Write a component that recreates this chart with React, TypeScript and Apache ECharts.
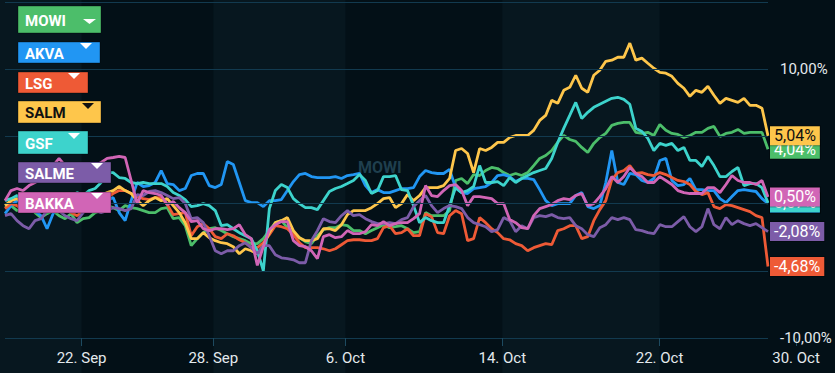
import React, { useEffect, useRef } from 'react';
import * as echarts from 'echarts';

// ---- data (percent change), one value per sample, left to right ----
const MOWI = [
  -0.30, -0.15, -0.52, -0.30, -0.15, -0.67, -1.04, -0.75, -0.52, -0.90,
  -1.12, -0.75, -1.42, -1.12, -1.04, -0.67, -0.52, -0.15, -0.30, -0.52,
  -0.15, -0.30, -0.37, -0.52, -0.67, -0.67, -0.37, -0.30, -1.12, -1.04,
  -1.64, -3.13, -2.61, -2.16, -1.87, -1.79, -2.01, -2.24, -2.46, -2.61,
  -2.76, -2.98, -2.98, -2.61, -2.01, -1.42, -1.27, -1.79, -2.16, -2.54,
  -2.83, -2.98, -2.39, -1.94, -1.79, -1.79, -1.57, -1.64, -2.01, -2.01,
  -2.24, -2.01, -1.79, -1.57, -1.79, -1.72, -1.64, -1.87, -2.16, -2.09,
  -0.67, -0.90, -0.90, -0.90, -0.52, 1.72, 1.87, 1.49, 2.16, 2.09,
  2.46, 2.69, 2.61, 2.31, 2.09, 2.24, 2.09, 2.31, 2.83, 3.36,
  3.58, 3.95, 4.55, 5.07, 4.77, 4.63, 4.18, 3.80, 4.48, 4.92,
  5.22, 5.82, 5.97, 6.04, 6.04, 5.30, 5.22, 5.30, 5.07, 5.89,
  5.45, 5.22, 5.15, 4.92, 5.07, 5.30, 5.30, 5.60, 5.74, 5.00,
  5.22, 5.30, 5.52, 5.22, 5.30, 5.30, 5.30, 4.04,
];
const AKVA = [
  -0.75, -0.15, 0.22, 0.0, -0.30, -0.52, -0.90, -1.87, -0.75, -0.15,
  0.0, 0.22, 0.22, 0.37, 0.22, 0.07, 0.37, 0.22, 0.45, -0.67,
  -1.27, 0.22, 1.57, 1.27, 1.34, 1.57, 2.46, 1.49, 1.42, 0.97,
  1.12, 2.09, 2.24, 2.24, 1.34, 1.19, 1.42, 3.13, 2.91, 1.57,
  0.22, 0.07, 0.07, -0.22, 0.22, 0.22, 0.30, 0.97, 1.64, 2.16,
  2.24, 2.01, 1.94, 1.94, 1.94, 2.01, 1.87, 2.09, 2.16, 2.24,
  1.34, 0.82, 1.04, 0.82, 0.82, 0.97, 1.12, 1.12, 1.19, 2.01,
  2.46, 2.31, 2.24, 2.24, 2.54, 1.19, 0.82, 0.75, 1.12, 1.19,
  1.27, 1.57, 2.09, 2.16, 2.01, 1.64, 1.87, 1.87, 1.79, 1.04,
  0.22, -0.15, 0.0, 0.0, 0.0, 0.60, 0.82, -0.22, -0.37, -0.15,
  1.57, 3.95, 1.57, 1.42, 2.24, 2.16, 1.72, 1.57, 1.87, 3.21,
  3.36, 1.72, 1.34, 1.42, 1.87, 1.04, 1.04, 0.97, 0.97, 0.37,
  0.07, 0.52, 0.97, 1.04, 0.97, 0.90, 0.37, 0.02,
];
const LSG = [
  -0.37, 0.0, -0.15, -0.52, -0.30, 0.07, -0.15, -0.52, -0.30, 0.0,
  -0.37, -0.67, -0.90, -0.52, -0.30, -0.15, 0.22, 0.45, 0.75, 0.97,
  0.97, 0.75, 0.52, 0.37, 0.30, 0.45, 0.45, -0.07, -0.82, -0.75,
  -0.67, -2.39, -1.72, -1.49, -1.87, -2.46, -2.61, -2.24, -2.39, -2.69,
  -2.91, -3.28, -3.28, -2.91, -2.31, -1.64, -1.72, -1.87, -2.31, -2.91,
  -3.28, -3.28, -3.28, -3.36, -3.51, -3.36, -3.06, -2.76, -2.69, -2.69,
  -2.76, -2.76, -2.61, -1.79, -1.64, -2.24, -2.16, -1.87, -2.39, -2.39,
  -0.75, -0.97, -2.16, -2.24, -0.90, -0.52, -0.75, -2.76, -2.61, -1.04,
  -1.42, -1.87, -2.16, -2.61, -2.69, -2.98, -3.13, -3.51, -3.28, -3.13,
  -2.98, -3.06, -2.01, -1.87, -1.64, -1.64, -2.61, -2.46, -1.27, -0.45,
  0.22, 1.79, 2.31, 2.46, 2.83, 2.24, 2.31, 2.16, 2.09, 2.31,
  2.16, 1.94, 1.72, 1.64, 1.42, 0.90, 0.67, 0.82, -0.22, -0.37,
  -0.07, -0.15, -0.30, -0.45, -0.60, -0.90, -1.04, -4.68,
];
const SALM = [
  -0.15, 0.22, 0.37, 0.0, 0.22, 0.52, 0.22, -0.15, 0.07, 0.37,
  0.22, -0.07, -0.37, -0.15, 0.22, 0.37, 0.60, 0.82, 0.97, 1.27,
  0.97, 0.75, 0.22, -0.15, 0.22, 0.45, 0.22, 0.37, -0.15, -0.67,
  -1.42, -2.61, -2.61, -2.16, -2.54, -2.76, -2.91, -2.98, -3.21, -3.73,
  -3.36, -3.51, -3.73, -3.13, -2.16, -1.42, -1.27, -1.04, -2.01, -2.54,
  -2.76, -2.76, -2.61, -1.87, -1.87, -2.01, -1.57, -0.82, -0.52, -0.52,
  -0.52, -0.30, 0.0, 0.37, 0.45, -0.30, 0.0, 0.67, 0.22, 0.60,
  1.19, 1.19, 1.19, 1.34, 1.87, 3.95, 4.10, 3.73, 2.31, 4.10,
  3.95, 4.18, 4.55, 4.55, 4.92, 5.07, 5.07, 5.07, 5.45, 6.19,
  6.56, 7.68, 7.46, 8.43, 8.65, 9.55, 8.58, 8.28, 9.55, 9.92,
  10.59, 10.67, 10.89, 10.89, 11.94, 10.67, 10.82, 10.44, 10.07, 9.77,
  9.70, 9.47, 8.95, 8.58, 7.98, 8.43, 8.28, 8.73, 8.06, 7.46,
  7.83, 7.68, 7.53, 7.83, 7.31, 7.31, 7.09, 5.04,
];
const GSF = [
  0.22, 0.37, 0.60, 0.22, 0.0, 0.37, 0.60, 0.22, -0.15, 0.22,
  0.60, 0.37, 0.82, 0.60, 0.97, 1.12, 1.57, 2.31, 2.31, 1.94,
  1.87, 1.57, 1.49, 1.57, 1.49, 1.49, 1.49, 1.27, 0.82, 0.60,
  0.30, -0.22, -0.15, 0.0, -0.15, -0.52, -1.64, -1.57, -1.87, -2.16,
  -2.39, -2.61, -3.51, -5.00, -0.37, 0.97, 1.42, 1.19, 0.37, 0.0,
  -0.30, -0.30, -0.45, 0.22, 0.90, 1.12, 1.27, 1.49, 1.72, 2.16,
  1.72, 0.75, 0.97, 2.01, 2.01, 2.09, 1.04, 0.97, -0.15, -1.42,
  -1.04, -1.27, -1.42, -1.42, -0.15, 1.19, 0.82, 0.97, 1.27, 2.83,
  1.57, 1.57, 1.64, 1.34, 1.94, 1.57, 1.87, 2.09, 2.31, 2.46,
  2.61, 3.36, 4.55, 5.60, 6.56, 7.53, 6.34, 6.79, 7.16, 7.39,
  7.61, 7.83, 7.91, 7.76, 7.39, 5.60, 5.37, 4.85, 3.95, 4.48,
  4.33, 4.48, 3.95, 4.18, 3.21, 3.21, 2.76, 3.51, 2.83, 2.01,
  2.01, 2.39, 2.69, 1.34, 1.49, 1.49, 1.19, 0.07,
];
const SALME = [
  -0.90, -0.75, -1.27, -1.64, -1.87, -1.27, -1.12, -0.52, -0.15, -0.52,
  -0.90, -1.12, -1.27, -0.67, -0.37, -0.52, -0.67, -0.52, -0.30, -0.37,
  -0.52, -0.37, 0.67, 0.60, 0.90, 0.97, 0.82, 0.60, 0.37, 0.45,
  0.0, -1.12, -1.04, -1.42, -2.39, -3.51, -3.73, -3.51, -3.51, -3.13,
  -2.91, -3.28, -3.73, -3.13, -3.13, -3.80, -4.03, -4.10, -4.18, -4.40,
  -4.40, -2.76, -2.01, -1.12, -1.34, -1.42, -0.90, -0.52, -0.90, -0.82,
  -1.12, -1.34, -1.49, -1.49, -1.42, -1.49, -1.19, -1.04, -0.22, 0.22,
  0.60, -0.15, -0.67, -0.37, -0.15, -0.22, -0.37, -1.04, -1.42, -1.57,
  -1.72, -2.09, -1.94, -1.04, -1.27, -2.09, -1.64, -1.87, -1.04, -0.90,
  -0.97, -0.82, -1.04, -1.12, -1.04, -1.64, -1.87, -2.31, -2.46, -1.79,
  -1.57, -1.04, -1.19, -1.04, -1.19, -1.94, -2.01, -2.16, -2.24, -1.57,
  -1.72, -1.72, -1.34, -0.97, -1.72, -2.09, -1.72, -0.37, -1.57, -1.87,
  -1.04, -1.57, -1.27, -1.49, -1.64, -1.49, -1.79, -2.08,
];
const BAKKA = [
  0.22, 0.97, 1.12, 0.97, 1.34, 1.57, 1.87, 2.31, 2.83, 3.36,
  2.83, 2.09, 1.72, 2.09, 2.46, 2.83, 3.06, 3.36, 3.43, 3.51,
  3.43, 1.72, 0.0, 0.97, 0.82, 0.75, 0.60, -0.07, 0.15, -0.30,
  -0.67, -1.34, -1.27, -1.87, -2.01, -1.87, -1.87, -1.94, -1.87, -1.57,
  -2.31, -2.61, -4.60, -3.20, -1.94, -1.57, -1.34, -1.34, -2.76, -3.13,
  -3.21, -3.51, -4.10, -2.46, -2.31, -2.54, -2.46, -2.01, -2.24, -2.24,
  -2.09, -1.57, -1.64, -1.34, -1.64, -1.49, -1.42, -1.42, -1.12, -0.75,
  1.34, 0.60, 0.52, 0.97, 1.34, 1.42, 0.97, -0.15, 0.52, 0.52,
  0.45, 0.37, 0.0, 0.0, -1.19, -1.42, -1.79, -1.87, -0.90, -0.37,
  -0.22, -0.07, 0.22, 0.37, 0.30, 0.60, 0.75, -0.15, 0.0, 0.52,
  1.12, 2.01, 1.57, 2.01, 2.69, 2.24, 2.01, 1.57, 1.57, 2.01,
  1.72, 1.42, 0.97, 0.82, 0.75, 0.75, 0.75, 1.19, 1.19, 0.82,
  1.42, 2.09, 1.72, 1.57, 1.57, 1.42, 1.72, 0.50,
];

// x tick positions (in sample-index units) and their labels
const tickPositions = [12.75, 34.67, 56.67, 82.77, 108.95, 131.67];
const tickLabels = ['22. Sep', '28. Sep', '6. Oct', '14. Oct', '22. Oct', '30. Oct'];
// alternate (darker) bands between date ticks
const darkBands = [[12.75, 34.67], [56.67, 82.77], [108.95, 138.2]];

const seriesNames = ['MOWI', 'AKVA', 'LSG', 'SALM', 'GSF', 'SALME', 'BAKKA'];
const seriesValues = [MOWI, AKVA, LSG, SALM, GSF, SALME, BAKKA];

// ---- styles ----
const seriesColors = ['#4cbe6a', '#2196f3', '#ee5a36', '#fec64b', '#3dd3cc', '#7c5ca8', '#d165b6'];
const labelTextColors = ['#ffffff', '#ffffff', '#ffffff', '#111111', '#ffffff', '#ffffff', '#ffffff'];
const legendLayout = [
  { y: 6, h: 27, w: 83, tx: 83, ty: 19, tw: 13, th: 5 },
  { y: 42, h: 21, w: 82, tx: 80, ty: 43, tw: 12, th: 6 },
  { y: 72, h: 21, w: 70, tx: 68, ty: 73, tw: 12, th: 6 },
  { y: 101, h: 22, w: 83, tx: 82, ty: 103, tw: 12, th: 6 },
  { y: 131, h: 23, w: 70, tx: 68, ty: 133, tw: 12, th: 6 },
  { y: 162, h: 21, w: 93, tx: 91, ty: 163, tw: 12, th: 6 },
  { y: 192, h: 21, w: 93, tx: 91, ty: 193, tw: 12, th: 6 },
];

const BG = '#07171f';
const DARK = '#031017';
const GRID_LINE = '#123a4f';
const FONT = 'Roboto, Arial, sans-serif';

const fmt = (v: number) => v.toFixed(2).replace('.', ',') + '%';

export default function App() {
  const ref = useRef<HTMLDivElement>(null);
  useEffect(() => {
    if (!ref.current) return;
    document.body.style.margin = '0';
    document.body.style.background = BG;
    const chart = echarts.init(ref.current, null, { renderer: 'svg' });
    const W = 835;
    const leftPx = 5;
    const plotRight = 768;
    const xMax = MOWI.length - 1;
    const pxPer = (plotRight - leftPx) / xMax;

    const graphics: any[] = [
      {
        type: 'text',
        z: 2,
        x: 358,
        y: 167,
        silent: true,
        style: {
          text: 'MOWI',
          fill: '#1f3f4e',
          font: 'bold 16px ' + FONT,
          verticalAlign: 'middle',
          textVerticalAlign: 'middle',
        },
      },
    ];
    seriesNames.forEach((name, i) => {
      const L = legendLayout[i];
      graphics.push({
        type: 'rect',
        z: 50,
        shape: { x: 18, y: L.y, width: L.w, height: L.h },
        style: { fill: seriesColors[i], stroke: 'rgba(0,0,0,0.35)', lineWidth: 1 },
      });
      graphics.push({
        type: 'text',
        z: 51,
        x: 25,
        y: L.y + L.h / 2 + 1,
        style: {
          text: name,
          fill: labelTextColors[i],
          font: 'bold 15px ' + FONT,
          verticalAlign: 'middle',
          textVerticalAlign: 'middle',
        },
      });
      graphics.push({
        type: 'polygon',
        z: 51,
        shape: { points: [[L.tx, L.ty], [L.tx + L.tw, L.ty], [L.tx + L.tw / 2, L.ty + L.th]] },
        style: { fill: labelTextColors[i] },
      });
    });

    const lineSeries = seriesNames.map((name, i) => ({
      name,
      type: 'line',
      xAxisIndex: 0,
      yAxisIndex: 0,
      data: seriesValues[i].map((v, k) => [k, v]),
      showSymbol: false,
      symbol: 'none',
      z: 3,
      silent: true,
      lineStyle: { color: seriesColors[i], width: 2.8 },
      itemStyle: { color: seriesColors[i] },
      endLabel: {
        show: true,
        formatter: (p: any) => fmt(p.value[1]),
        color: labelTextColors[i],
        backgroundColor: seriesColors[i],
        borderColor: 'rgba(0,0,0,0.3)',
        borderWidth: 1,
        padding: [2, 4, 1, 4],
        fontSize: 16,
        fontFamily: FONT,
        distance: 2,
      },
    }));

    const option: any = {
      animation: false,
      backgroundColor: BG,
      grid: [
        { left: leftPx, right: W - plotRight, top: 2, bottom: 35 },
        { left: leftPx, right: 0, top: 2, bottom: 35 },
        { left: 0, right: 0, top: 0, bottom: 0 },
      ],
      xAxis: [
        { gridIndex: 0, type: 'value', min: 0, max: xMax, show: false },
        {
          gridIndex: 1,
          type: 'value',
          min: 0,
          max: (W - leftPx) / pxPer,
          z: 5,
          axisLine: { show: false },
          splitLine: { show: false },
          axisTick: { show: true, customValues: tickPositions, length: 8, lineStyle: { color: '#1d4a60' } },
          axisLabel: {
            customValues: tickPositions,
            formatter: (v: number) => {
              const k = tickPositions.findIndex((t) => Math.abs(t - v) < 0.01);
              return k >= 0 ? tickLabels[k] : '';
            },
            color: '#e3e9ed',
            fontSize: 15,
            fontFamily: FONT,
            margin: 12,
          },
        },
        { gridIndex: 2, type: 'value', min: -leftPx / pxPer, max: (W - leftPx) / pxPer, show: false },
      ],
      yAxis: [
        {
          gridIndex: 0,
          type: 'value',
          min: -10,
          max: 15,
          interval: 5,
          position: 'right',
          z: 5,
          axisLine: { show: false },
          axisTick: { show: false },
          splitLine: { lineStyle: { color: GRID_LINE, width: 1 } },
          axisLabel: {
            margin: 12,
            color: '#e3e9ed',
            fontSize: 15,
            fontFamily: FONT,
            formatter: (v: number) => (v === 10 || v === -10 ? fmt(v) : ''),
          },
        },
        { gridIndex: 1, type: 'value', min: 0, max: 1, show: false },
        { gridIndex: 2, type: 'value', min: 0, max: 1, show: false },
      ],
      series: [
        {
          type: 'line',
          xAxisIndex: 2,
          yAxisIndex: 2,
          data: [],
          silent: true,
          z: -10,
          markArea: {
            silent: true,
            z: -10,
            itemStyle: { color: DARK },
            data: darkBands.map(([a, b]) => [{ xAxis: a }, { xAxis: b }]),
          },
        },
        ...lineSeries,
      ],
      graphic: graphics,
    };
    chart.setOption(option);
    return () => chart.dispose();
  }, []);
  return <div ref={ref} style={{ position: 'fixed', left: 0, top: 0, width: 835, height: 373 }} />;
}
